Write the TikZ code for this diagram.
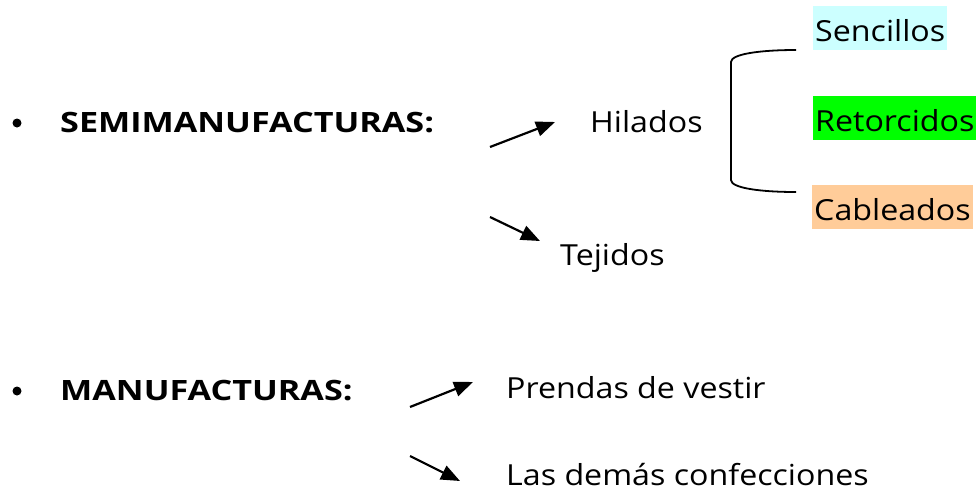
\documentclass[tikz,border=0pt]{standalone}
\usepackage{fontspec}
\setmainfont{Open Sans}[FakeStretch=1.11]
\newfontfamily\headfont{Open Sans}[FakeStretch=1.22]
\usetikzlibrary{arrows.meta}
\tikzset{
  lbl/.style={anchor=base west, inner sep=0pt, font=\fontsize{29}{32}\selectfont},
  head/.style={anchor=base west, inner sep=0pt, font=\fontsize{28}{32}\headfont\bfseries},
  hbox/.style={anchor=base west, inner xsep=2pt, inner ysep=0pt, text height=35pt, text depth=9pt, font=\fontsize{29}{32}\selectfont},
  arr/.style={line width=2.2pt, -{Triangle[length=19pt,width=15pt]}},
  brace/.style={line width=1.8pt},
  dot/.style={circle, fill=black, inner sep=0pt, minimum size=9pt}
}
\definecolor{cyanlight}{HTML}{CCFFFF}
\definecolor{greenbright}{HTML}{00FF00}
\definecolor{orangelight}{HTML}{FFCC99}
\begin{document}
\begin{tikzpicture}[x=1pt,y=-1pt]
\useasboundingbox (0,0) rectangle (978,491);
% bullets
\node[dot] (b1) at (17,123) {};
\node[dot] (b2) at (17,391) {};
% headings
\node[head] (semi) at (60,132) {SEMIMANUFACTURAS:};
\node[head] (manu) at (60,400) {MANUFACTURAS:};
% items
\node[lbl] (hil) at (590,132) {Hilados};
\node[lbl] (tej) at (560,265) {Tejidos};
\node[lbl] (pre) at (506,398) {Prendas de vestir};
\node[lbl] (las) at (506,485) {Las demás confecciones};
% coloured boxes
\node[hbox, fill=cyanlight] (sen) at (813,41) {Sencillos};
\node[hbox, fill=greenbright] (ret) at (813,131) {Retorcidos};
\node[hbox, fill=orangelight] (cab) at (812,220) {Cableados};
% arrow end coordinates
\coordinate (a1) at (490,147);
\coordinate (a1e) at (555,122);
\coordinate (a2) at (490,217);
\coordinate (a2e) at (540,241);
\coordinate (a3) at (410,407);
\coordinate (a3e) at (473,382);
\coordinate (a4) at (410,456);
\coordinate (a4e) at (460,481);
\draw[arr] (a1) -- (a1e);
\draw[arr] (a2) -- (a2e);
\draw[arr] (a3) -- (a3e);
\draw[arr] (a4) -- (a4e);
% brace
\coordinate (bt) at (796,50);
\coordinate (bb) at (796,192);
\draw[brace] (bt) .. controls (760,50) and (731,54) .. (731,62) -- (731,180) .. controls (731,188) and (760,192) .. (bb);
\end{tikzpicture}
\end{document}
